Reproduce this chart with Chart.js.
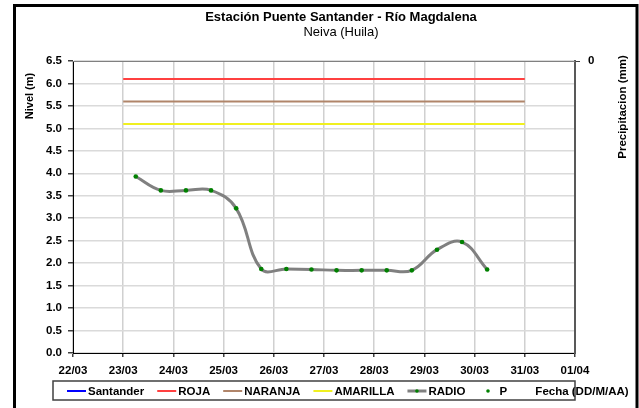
<!DOCTYPE html>
<html>
<head>
<meta charset="utf-8">
<script src="https://cdn.jsdelivr.net/npm/chart.js@4"></script>
<style>
  html, body { margin: 0; padding: 0; background: #fff; }
  #wrap { width: 639px; height: 408px; position: relative; }
</style>
</head>
<body>
<div id="wrap"><canvas id="levelChart"></canvas></div>
<script>
// tick labels of the date axis (one per day)
const dayLabels = ['22/03', '23/03', '24/03', '25/03', '26/03', '27/03', '28/03', '29/03', '30/03', '31/03', '01/04'];

// RADIO readings, every 12 h
const radioTimes = [
    '23/03 06', '23/03 18', '24/03 06', '24/03 18', '25/03 06', '25/03 18',
    '26/03 06', '26/03 18', '27/03 06', '27/03 18', '28/03 06', '28/03 18',
    '29/03 06', '29/03 18', '30/03 06'
];
const radioLevels = [3.93, 3.62, 3.62, 3.62, 3.22, 1.87, 1.87, 1.86, 1.84, 1.84, 1.84, 1.84, 2.30, 2.47, 1.86];

// alert thresholds
const alertNames = ['ROJA', 'NARANJA', 'AMARILLA'];
const alertLevels = [6.1, 5.6, 5.1];
const alertColors = ['#ff4040', '#b0856a', '#f0f020'];
const alertSpan = ['23/03', '31/03'];

const levelTicks = { min: 0, max: 6.5, step: 0.5 };

const FONT = 'Arial, "Liberation Sans", sans-serif';

function dayIndex(stamp) {
    const [d, h] = stamp.split(' ');
    return dayLabels.indexOf(d) + (h ? parseInt(h, 10) / 24 : 0);
}

const datasets = [
    { label: 'Santander', data: [], borderColor: '#0000ff', borderWidth: 3, pointRadius: 0 }
];
alertNames.forEach((name, i) => {
    datasets.push({
        label: name,
        data: alertSpan.map((d) => ({ x: dayIndex(d), y: alertLevels[i] })),
        borderColor: alertColors[i],
        borderWidth: 2,
        pointRadius: 0,
        tension: 0
    });
});
datasets.push({
    label: 'RADIO',
    data: radioTimes.map((t, i) => ({ x: dayIndex(t), y: radioLevels[i] })),
    borderColor: '#808080',
    borderWidth: 3,
    pointRadius: 2.3,
    pointBackgroundColor: '#008000',
    pointBorderColor: '#008000',
    pointBorderWidth: 0,
    tension: 0.4
});
datasets.push({
    label: 'P', data: [], yAxisID: 'y2', showLine: false,
    pointRadius: 1.5, pointBackgroundColor: '#008000', pointBorderWidth: 0
});

const decor = {
    id: 'decor',
    beforeDraw(chart) {
        const ctx = chart.ctx;
        ctx.save();
        ctx.fillStyle = '#fff';
        ctx.fillRect(0, 0, chart.width, chart.height);
        ctx.restore();
    },
    afterDraw(chart) {
        const ctx = chart.ctx;
        const area = chart.chartArea;
        ctx.save();

        // plot area top edge
        ctx.strokeStyle = '#808080';
        ctx.lineWidth = 1;
        ctx.beginPath();
        ctx.moveTo(area.left, area.top + 0.5);
        ctx.lineTo(area.right, area.top + 0.5);
        ctx.stroke();

        // outer frame
        ctx.strokeStyle = '#000';
        ctx.lineWidth = 3;
        ctx.strokeRect(14.5, 5.5, 622.5, 500);

        // titles
        ctx.fillStyle = '#000';
        ctx.textAlign = 'center';
        ctx.textBaseline = 'middle';
        ctx.font = 'bold 13px ' + FONT;
        ctx.fillText('Estación Puente Santander - Río Magdalena', 341, 17);
        ctx.font = '13px ' + FONT;
        ctx.fillText('Neiva (Huila)', 341, 32);

        // axis titles
        ctx.font = 'bold 11px ' + FONT;
        ctx.save();
        ctx.translate(30, 96);
        ctx.rotate(-Math.PI / 2);
        ctx.fillText('Nivel (m)', 0, 0);
        ctx.restore();
        ctx.save();
        ctx.font = 'bold 11.5px ' + FONT;
        ctx.translate(623, 107);
        ctx.rotate(-Math.PI / 2);
        ctx.fillText('Precipitacion (mm)', 0, 0);
        ctx.restore();

        ctx.font = 'bold 11.5px ' + FONT;
        ctx.fillText('Fecha (DD/M/AA)', 582, 392);

        // legend box
        ctx.strokeStyle = '#404040';
        ctx.lineWidth = 1.5;
        ctx.strokeRect(53, 381, 522, 19);

        ctx.textAlign = 'left';
        ctx.font = 'bold 11.5px ' + FONT;
        let x = 67;
        const y = 391;
        chart.data.datasets.forEach((ds) => {
            if (ds.showLine !== false) {
                ctx.strokeStyle = ds.borderColor;
                ctx.lineWidth = ds.label === 'RADIO' ? 3 : 2;
                ctx.beginPath();
                ctx.moveTo(x, y);
                ctx.lineTo(x + 19, y);
                ctx.stroke();
            }
            if (ds.pointBackgroundColor) {
                ctx.fillStyle = ds.pointBackgroundColor;
                ctx.beginPath();
                ctx.arc(x + 9.5, y, 1.8, 0, Math.PI * 2);
                ctx.fill();
            }
            ctx.fillStyle = '#000';
            ctx.fillText(ds.label, x + 21, y + 1);
            x += 21 + ctx.measureText(ds.label).width + 13;
        });

        ctx.restore();
    }
};

new Chart(document.getElementById('levelChart').getContext('2d'), {
    type: 'line',
    data: { datasets },
    options: {
        animation: false,
        responsive: true,
        maintainAspectRatio: false,
        layout: { padding: { top: 61, left: 0, right: 0, bottom: 0 } },
        plugins: {
            legend: { display: false },
            title: { display: false },
            tooltip: { enabled: false }
        },
        scales: {
            x: {
                type: 'linear',
                min: 0,
                max: dayLabels.length - 1,
                afterFit(scale) { scale.height = 55; },
                ticks: {
                    stepSize: 1,
                    padding: 7,
                    color: '#000',
                    font: { family: FONT, size: 11.5, weight: 'bold' },
                    maxRotation: 0,
                    callback: (v) => dayLabels[v]
                },
                grid: { color: '#d0d0d0', lineWidth: 1.5, tickLength: 4, tickColor: '#404040' },
                border: { color: '#000', width: 1 }
            },
            y: {
                min: levelTicks.min,
                max: levelTicks.max,
                afterFit(scale) { scale.width = 73; },
                ticks: {
                    stepSize: levelTicks.step,
                    padding: 6,
                    color: '#000',
                    font: { family: FONT, size: 11.5, weight: 'bold' },
                    callback: (v) => v.toFixed(1)
                },
                grid: { color: '#dadada', lineWidth: 1.5, tickLength: 5, tickColor: '#404040' },
                border: { color: '#000', width: 1 }
            },
            y2: {
                position: 'right',
                min: 0,
                max: 1,
                reverse: true,
                afterFit(scale) { scale.width = 64; },
                afterBuildTicks(scale) { scale.ticks = [{ value: 0 }]; },
                ticks: {
                    padding: 8,
                    color: '#000',
                    font: { family: FONT, size: 11.5, weight: 'bold' }
                },
                grid: { drawOnChartArea: false, tickLength: 5, tickColor: '#404040' },
                border: { color: '#595959', width: 2 }
            }
        }
    },
    plugins: [decor]
});
</script>
</body>
</html>
